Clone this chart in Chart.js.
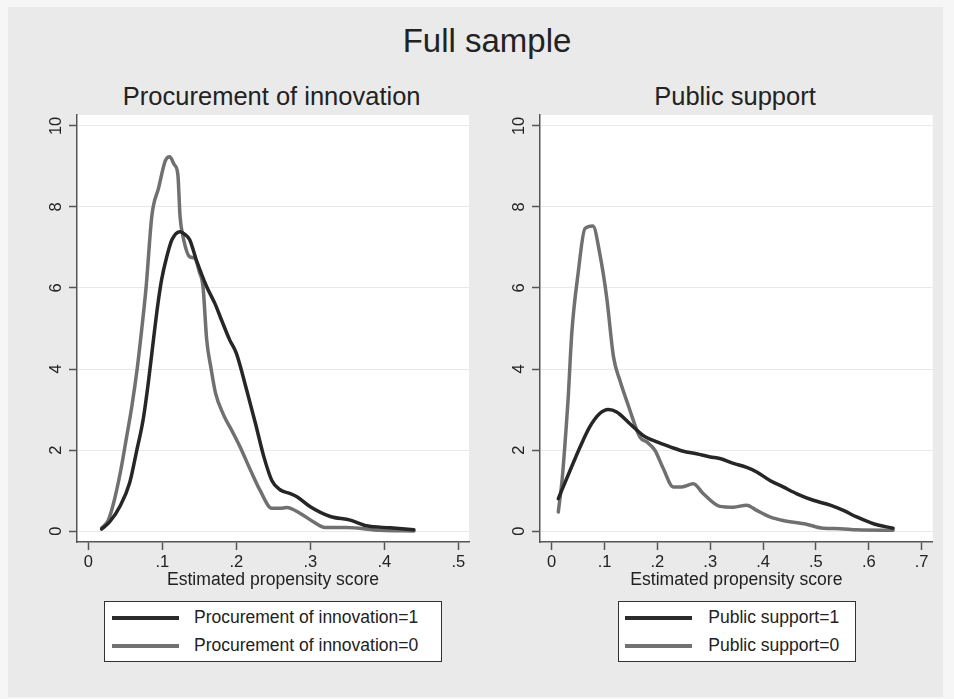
<!DOCTYPE html>
<html><head><meta charset="utf-8">
<script src="https://cdn.jsdelivr.net/npm/chart.js@4"></script>
<style>
html,body{margin:0;padding:0;background:#f6f6f6;width:954px;height:699px;overflow:hidden;font-family:"Liberation Sans",Arial,Helvetica,sans-serif;}
#bg{position:absolute;left:8px;top:7px;width:935px;height:690px;background:#eaeaea;}
.t{position:absolute;white-space:nowrap;line-height:1;color:#222;transform:translateX(-50%);}
canvas{position:absolute;top:0;}
.lg{position:absolute;top:601px;height:61px;box-sizing:border-box;background:#fff;border:1px solid #333;}
.sw{position:absolute;height:4px;width:67px;}
.lt{position:absolute;font-size:17.5px;line-height:1;color:#222;white-space:nowrap;}
</style></head>
<body>
<div id="bg"></div>
<div class="t" style="left:487px;top:23.8px;font-size:33px;">Full sample</div>
<div class="t" style="left:271.7px;top:84.4px;font-size:25.5px;">Procurement of innovation</div>
<div class="t" style="left:735px;top:84.4px;font-size:25.5px;">Public support</div>
<canvas id="c1" width="477" height="600" style="left:0px"></canvas>
<canvas id="c2" width="477" height="600" style="left:477px"></canvas>
<div class="lg" style="left:104px;width:338px;">
  <div class="sw" style="left:6.7px;top:13.7px;background:#2b2b2b"></div>
  <div class="lt" style="left:89px;top:7.2px;">Procurement of innovation=1</div>
  <div class="sw" style="left:6.7px;top:41.7px;background:#717171"></div>
  <div class="lt" style="left:89px;top:35.2px;">Procurement of innovation=0</div>
</div>
<div class="lg" style="left:617.7px;width:238px;">
  <div class="sw" style="left:6.3px;top:13.7px;background:#2b2b2b"></div>
  <div class="lt" style="left:89.6px;top:7.2px;">Public support=1</div>
  <div class="sw" style="left:6.3px;top:41.7px;background:#717171"></div>
  <div class="lt" style="left:89.6px;top:35.2px;">Public support=0</div>
</div>
<script>
// ---- Data ----
const xTicksProc = [0, 0.1, 0.2, 0.3, 0.4, 0.5];
const xLabelsProc = ['0', '.1', '.2', '.3', '.4', '.5'];
const xTicksPub = [0, 0.1, 0.2, 0.3, 0.4, 0.5, 0.6, 0.7];
const xLabelsPub = ['0', '.1', '.2', '.3', '.4', '.5', '.6', '.7'];
const yTicks = [0, 2, 4, 6, 8, 10];
const yLabels = ['0', '2', '4', '6', '8', '10'];

const procScore1 = [0.018, 0.029, 0.043, 0.056, 0.065, 0.074, 0.081, 0.088, 0.094, 0.099, 0.106, 0.113, 0.124, 0.130, 0.137, 0.146, 0.160, 0.171, 0.180, 0.191, 0.200, 0.214, 0.226, 0.237, 0.248, 0.259, 0.272, 0.282, 0.300, 0.327, 0.354, 0.376, 0.408, 0.440];
const procDens1  = [0.05, 0.23, 0.62, 1.20, 1.95, 2.74, 3.65, 4.72, 5.60, 6.20, 6.77, 7.19, 7.39, 7.33, 7.19, 6.69, 6.03, 5.62, 5.21, 4.72, 4.39, 3.48, 2.65, 1.85, 1.25, 1.02, 0.93, 0.85, 0.60, 0.36, 0.27, 0.13, 0.08, 0.03];

const procScore0 = [0.018, 0.027, 0.034, 0.043, 0.052, 0.059, 0.066, 0.072, 0.078, 0.086, 0.095, 0.104, 0.110, 0.116, 0.121, 0.124, 0.128, 0.137, 0.144, 0.150, 0.155, 0.160, 0.166, 0.172, 0.182, 0.196, 0.205, 0.219, 0.232, 0.248, 0.259, 0.268, 0.286, 0.304, 0.320, 0.349, 0.394, 0.440];
const procDens0  = [0.07, 0.27, 0.68, 1.42, 2.35, 3.10, 4.00, 4.95, 6.00, 7.80, 8.47, 9.14, 9.24, 9.05, 8.80, 7.76, 7.27, 6.77, 6.73, 6.40, 6.03, 4.72, 4.00, 3.40, 2.90, 2.41, 2.08, 1.51, 1.01, 0.56, 0.56, 0.58, 0.44, 0.23, 0.09, 0.09, 0.02, 0.00];

const pubScore1 = [0.0125, 0.035, 0.054, 0.072, 0.091, 0.107, 0.123, 0.148, 0.173, 0.199, 0.224, 0.249, 0.274, 0.300, 0.318, 0.344, 0.369, 0.388, 0.413, 0.438, 0.464, 0.495, 0.527, 0.552, 0.577, 0.609, 0.646];
const pubDens1  = [0.80, 1.50, 2.08, 2.57, 2.90, 3.00, 2.94, 2.65, 2.36, 2.20, 2.08, 1.97, 1.91, 1.83, 1.79, 1.67, 1.57, 1.46, 1.25, 1.09, 0.92, 0.76, 0.64, 0.51, 0.35, 0.18, 0.07];

const pubScore0 = [0.0125, 0.020, 0.026, 0.031, 0.038, 0.050, 0.063, 0.078, 0.091, 0.104, 0.117, 0.129, 0.145, 0.167, 0.180, 0.195, 0.211, 0.230, 0.246, 0.268, 0.287, 0.318, 0.344, 0.369, 0.388, 0.413, 0.438, 0.482, 0.514, 0.546, 0.577, 0.646];
const pubDens0  = [0.47, 1.30, 2.30, 3.23, 4.88, 6.36, 7.47, 7.53, 6.85, 5.78, 4.30, 3.72, 3.10, 2.32, 2.20, 2.00, 1.55, 1.09, 1.09, 1.17, 0.92, 0.61, 0.59, 0.64, 0.51, 0.35, 0.26, 0.17, 0.07, 0.06, 0.03, 0.02];

// ---- Styles ----
const FONT = '"Liberation Sans", Arial, Helvetica, sans-serif';
const DARK = '#262626';
const GRAY = '#707070';
const AX = '#555555';

const plotBg = {
  id: 'plotBg',
  beforeDraw(c) {
    const {ctx, chartArea: a} = c;
    ctx.save();
    ctx.fillStyle = '#ffffff';
    ctx.fillRect(a.left, a.top, a.right - a.left, a.bottom - a.top);
    ctx.restore();
  }
};

function pts(xs, ys) { return xs.map((x, i) => ({x: x, y: ys[i]})); }

function makeChart(id, xs1, ys1, xs0, ys0, xMin, xMax, xTicks, xLabels, padL, padR) {
  return new Chart(document.getElementById(id), {
    type: 'line',
    data: {
      datasets: [
        {data: pts(xs1, ys1), borderColor: DARK, borderWidth: 3.5, pointRadius: 0, fill: false, cubicInterpolationMode: 'monotone', borderJoinStyle: 'round', borderCapStyle: 'round'},
        {data: pts(xs0, ys0), borderColor: GRAY, borderWidth: 3.5, pointRadius: 0, fill: false, cubicInterpolationMode: 'monotone', borderJoinStyle: 'round', borderCapStyle: 'round'}
      ]
    },
    plugins: [plotBg],
    options: {
      responsive: false, animation: false, devicePixelRatio: 1,
      layout: {padding: {left: padL, right: padR, top: 115, bottom: 8}},
      plugins: {legend: {display: false}, tooltip: {enabled: false}, title: {display: false}},
      scales: {
        x: {
          type: 'linear', min: xMin, max: xMax,
          afterBuildTicks: s => { s.ticks = xTicks.map(v => ({value: v})); },
          afterFit: s => { s.height = 50; },
          grid: {drawOnChartArea: false, drawTicks: true, tickLength: 8, tickColor: AX, tickWidth: 1.5},
          border: {display: true, color: AX, width: 1.5},
          ticks: {autoSkip: false, minRotation: 0, maxRotation: 0, padding: 3, color: '#222', font: {family: FONT, size: 16.5},
                  callback: (v, i) => xLabels[i]},
          title: {display: true, text: 'Estimated propensity score', color: '#222', font: {family: FONT, size: 17.6}, padding: {top: 0, bottom: 1}}
        },
        y: {
          type: 'linear', min: -0.27, max: 10.27,
          afterBuildTicks: s => { s.ticks = yTicks.map(v => ({value: v})); },
          afterFit: s => { s.width = 40; },
          grid: {color: '#e9e9e9', lineWidth: 1, drawTicks: true, tickLength: 8, tickColor: AX, tickWidth: 1.5},
          border: {display: true, color: AX, width: 1.5},
          ticks: {minRotation: 90, maxRotation: 90, crossAlign: 'center', padding: 3, color: '#222', font: {family: FONT, size: 16.5},
                  callback: (v, i) => yLabels[i]}
        }
      }
    }
  });
}

makeChart('c1', procScore1, procDens1, procScore0, procDens0, -0.0153, 0.5145, xTicksProc, xLabelsProc, 37, 8);
makeChart('c2', pubScore1, pubDens1, pubScore0, pubDens0, -0.0221, 0.721, xTicksPub, xLabelsPub, 23, 21.3);
</script>
</body></html>
